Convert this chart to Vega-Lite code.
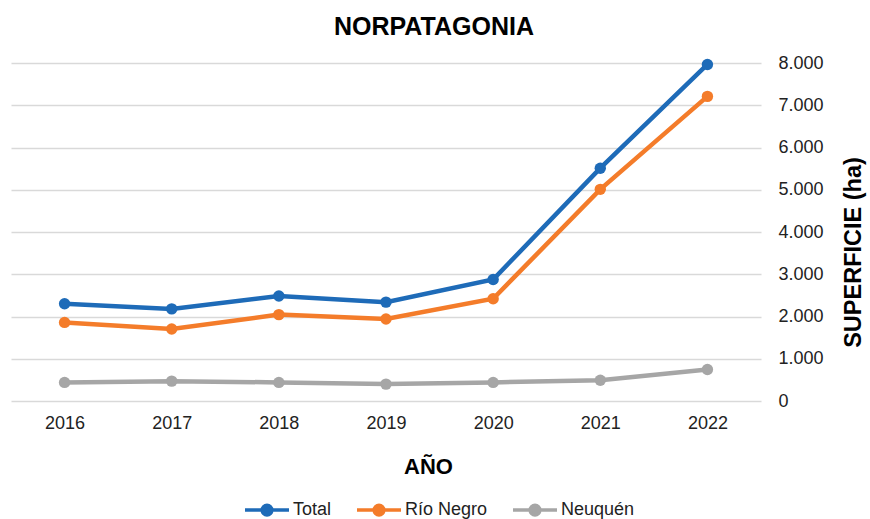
{
  "$schema": "https://vega.github.io/schema/vega-lite/v6.json",
  "width": 750,
  "height": 338,
  "autosize": {"type": "none"},
  "padding": {"left": 11, "top": 63, "right": 109, "bottom": 118},
  "background": "white",
  "config": {"view": {"stroke": null}},
  "title": {
    "text": "NORPATAGONIA",
    "font": "Liberation Sans",
    "fontSize": 25,
    "fontWeight": "bold",
    "color": "#000000",
    "anchor": "middle",
    "dx": 48,
    "offset": 14
  },
  "data": {
    "values": [
      {"anio": "2016", "serie": "Total", "superficie": 2300},
      {"anio": "2017", "serie": "Total", "superficie": 2180},
      {"anio": "2018", "serie": "Total", "superficie": 2485},
      {"anio": "2019", "serie": "Total", "superficie": 2340},
      {"anio": "2020", "serie": "Total", "superficie": 2875},
      {"anio": "2021", "serie": "Total", "superficie": 5510},
      {"anio": "2022", "serie": "Total", "superficie": 7965},
      {"anio": "2016", "serie": "Río Negro", "superficie": 1860},
      {"anio": "2017", "serie": "Río Negro", "superficie": 1705},
      {"anio": "2018", "serie": "Río Negro", "superficie": 2045},
      {"anio": "2019", "serie": "Río Negro", "superficie": 1940},
      {"anio": "2020", "serie": "Río Negro", "superficie": 2420},
      {"anio": "2021", "serie": "Río Negro", "superficie": 5010},
      {"anio": "2022", "serie": "Río Negro", "superficie": 7210},
      {"anio": "2016", "serie": "Neuquén", "superficie": 440},
      {"anio": "2017", "serie": "Neuquén", "superficie": 470},
      {"anio": "2018", "serie": "Neuquén", "superficie": 440},
      {"anio": "2019", "serie": "Neuquén", "superficie": 400},
      {"anio": "2020", "serie": "Neuquén", "superficie": 440},
      {"anio": "2021", "serie": "Neuquén", "superficie": 490},
      {"anio": "2022", "serie": "Neuquén", "superficie": 745}
    ]
  },
  "encoding": {
    "x": {
      "field": "anio",
      "type": "ordinal",
      "scale": {"type": "point", "padding": 0.5},
      "axis": {
        "orient": "bottom",
        "labelAngle": 0,
        "grid": false,
        "domain": false,
        "ticks": false,
        "tickSize": 0,
        "labelPadding": 13,
        "labelFont": "Liberation Sans",
        "labelFontSize": 18,
        "labelColor": "#222222",
        "title": "AÑO",
        "titleFont": "Liberation Sans",
        "titleFontSize": 22,
        "titleFontWeight": "bold",
        "titleColor": "#000000",
        "titleX": 417,
        "titleY": 72,
        "titleAlign": "center",
        "titleBaseline": "alphabetic"
      }
    },
    "y": {
      "field": "superficie",
      "type": "quantitative",
      "scale": {"domain": [0, 8000], "nice": false},
      "axis": {
        "orient": "right",
        "values": [0, 1000, 2000, 3000, 4000, 5000, 6000, 7000, 8000],
        "labelExpr": "replace(format(datum.value, ','), ',', '.')",
        "grid": true,
        "gridColor": "#D9D9D9",
        "gridWidth": 1.3,
        "domain": false,
        "ticks": false,
        "tickSize": 0,
        "labelPadding": 17,
        "labelAlign": "left",
        "labelFont": "Liberation Sans",
        "labelFontSize": 18,
        "labelColor": "#222222",
        "title": "SUPERFICIE (ha)",
        "titleFont": "Liberation Sans",
        "titleFontSize": 23.5,
        "titleFontWeight": "bold",
        "titleColor": "#000000",
        "titleAngle": 270,
        "titleX": 92,
        "titleY": 189,
        "titleAlign": "center",
        "titleBaseline": "middle"
      }
    },
    "color": {
      "field": "serie",
      "type": "nominal",
      "scale": {
        "domain": ["Total", "Río Negro", "Neuquén"],
        "range": ["#1E6BB8", "#F47C2A", "#A6A6A6"]
      },
      "legend": {
        "orient": "none",
        "legendX": 232,
        "legendY": 423,
        "direction": "horizontal",
        "columns": 3,
        "title": null,
        "symbolType": "M-1,0H1M-0.22,0A0.22,0.22,0,1,1,0.22,0A0.22,0.22,0,1,1,-0.22,0Z",
        "symbolSize": 1936,
        "symbolStrokeWidth": 3.5,
        "labelFont": "Liberation Sans",
        "labelFontSize": 18,
        "labelColor": "#222222",
        "labelOffset": 2,
        "columnPadding": 18,
        "encode": {
          "symbols": {
            "update": {
              "fill": {"scale": "color", "field": "value"},
              "stroke": {"scale": "color", "field": "value"},
              "strokeWidth": {"value": 3.5},
              "opacity": {"value": 1}
            }
          }
        }
      }
    }
  },
  "layer": [
    {"mark": {"type": "line", "strokeWidth": 4.5}},
    {"mark": {"type": "point", "filled": true, "size": 130, "opacity": 1}}
  ]
}
